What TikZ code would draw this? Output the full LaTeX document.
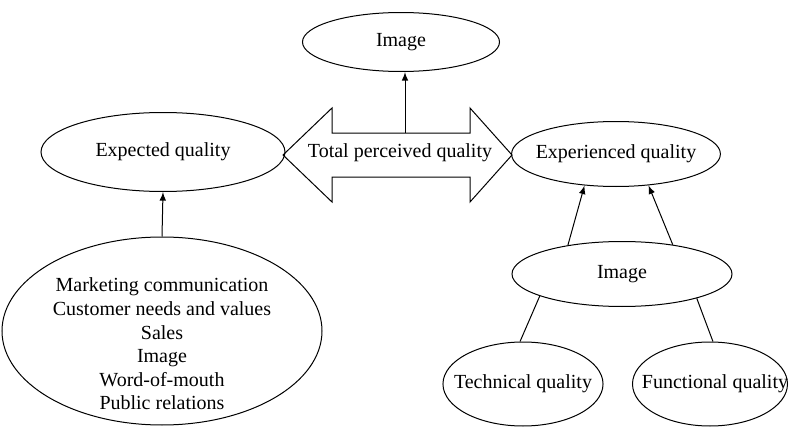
\documentclass[tikz,border=0pt]{standalone}
\usepackage{fontspec}
\setmainfont{Liberation Serif}
\usepackage{tikz}
\usetikzlibrary{shapes.geometric, arrows}

\tikzset{
 oval/.style={draw, ellipse, inner sep=0pt, line width=0.5pt},
 conn/.style={line width=0.5pt},
 arr/.style={conn, -latex}
}

\begin{document}
\begin{tikzpicture}[x=0.5pt, y=-0.5pt, font=\fontsize{10}{11.8}\selectfont]
 \useasboundingbox (0,0) rectangle (789,428);
 % ellipses
 \node[oval, minimum width=98.5pt, minimum height=29.5pt] (imgtop) at (401,42) {Image};
 \node[oval, minimum width=122pt, minimum height=39.5pt] (expq) at (163,152) {Expected quality};
 \node[oval, inner xsep=-3.2pt, minimum width=103.5pt, minimum height=32.5pt] (experq) at (616,154) {Experienced quality};
 \node[oval, minimum width=160pt, minimum height=94pt] (src) at (162,331) {};
 \node[align=center] (srctext) at (162,344) {Marketing communication\\Customer needs and values\\Sales\\Image\\Word-of-mouth\\Public relations};
 \node[oval, minimum width=110pt, minimum height=32.5pt] (imgmid) at (622,274) {Image};
 \node[oval, inner xsep=-6.2pt, minimum width=80pt, minimum height=42pt] (techq) at (523,384) {Technical quality};
 \node[oval, inner xsep=-8.9pt, minimum width=77.5pt, minimum height=42pt] (funcq) at (710,384) {};
 \node (functext) at (715,384) {Functional quality};
 % double arrow
 \draw[conn] (283,155) -- (332,108) -- (332,133) -- (470,133) -- (470,108) -- (512,155)
  -- (470,202) -- (470,177) -- (332,177) -- (332,202) -- cycle;
 \node (tpq) at (400,153) {Total perceived quality};
 \coordinate (tpqtop) at (405,133);
 % connectors
 \draw[arr] (tpqtop) -- (tpqtop |- imgtop.south);
 \draw[arr] (src.north) -- (expq.south);
 \draw[arr] (imgmid.152) -- (experq.225);
 \draw[arr] (imgmid.30) -- (experq.316);
 \draw[conn] (techq.94) -- (imgmid.195);
 \draw[conn] (funcq.86) -- (imgmid.342);
\end{tikzpicture}
\end{document}
